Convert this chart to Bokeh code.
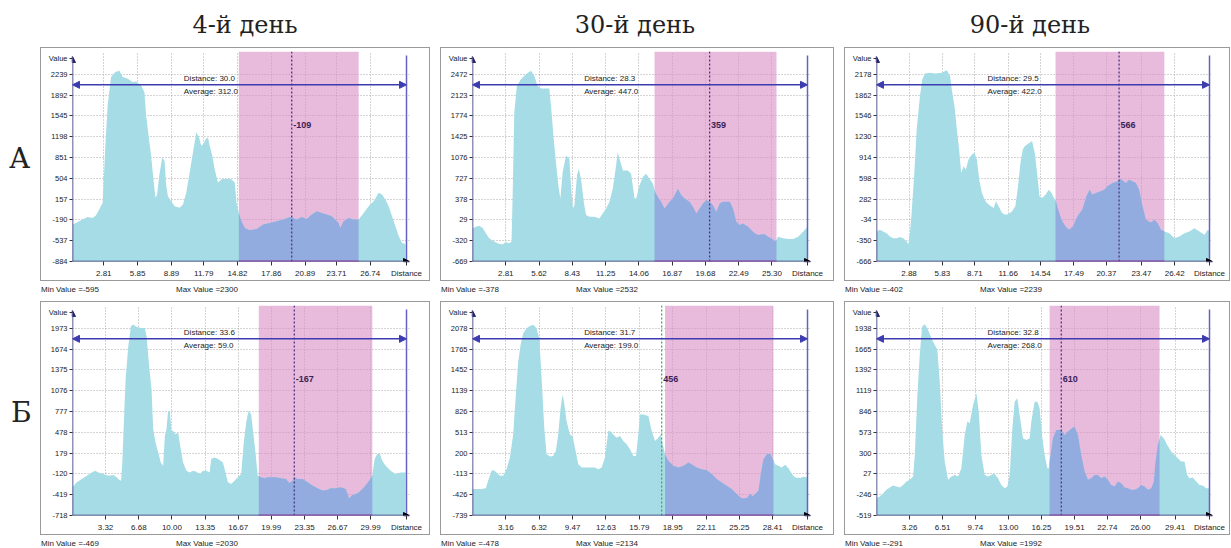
import numpy as np
from bokeh.plotting import figure
from bokeh.models import Range1d, FixedTicker, Label, Arrow, NormalHead, Span, Div, Spacer
from bokeh.layouts import row, column
from bokeh.embed import file_html
from bokeh.resources import INLINE

# ---------------- data ----------------
HEADERS = ["4-й день", "30-й день", "90-й день"]
ROW_LABELS = ["А", "Б"]

# Panel A1 (4-й день, row А)
A1_x = [0.00,0.30,0.90,1.35,1.80,2.10,2.40,2.71,2.95,3.16,3.46,3.85,4.21,4.51,4.96,5.41,5.71,6.16,6.46,6.61,
        6.91,7.06,7.27,7.45,7.60,7.81,8.06,8.27,8.42,8.57,8.87,9.17,9.62,9.92,10.22,10.52,10.82,11.12,11.36,11.57,
        11.78,11.96,12.17,12.32,12.56,12.77,13.07,13.38,13.83,14.28,14.58,14.73,14.94,15.18,15.48,15.93,16.53,17.13,17.73,18.33,
        18.94,19.54,19.84,20.14,20.59,21.04,21.49,21.94,22.39,22.84,23.29,23.59,23.90,24.05,24.35,24.80,25.25,25.70,26.15,26.60,
        27.05,27.50,27.80,28.10,28.40,28.70,29.00,29.31,29.61,29.91]
A1_y = [-268,-240,-184,-140,-157,-117,-17,95,1047,1718,2194,2278,2300,2194,2166,2110,2121,2054,1942,1551,
        1103,879,487,179,235,571,851,795,375,207,123,39,11,67,263,599,935,1271,1187,1047,
        1075,1159,1187,1047,879,655,431,487,498,487,431,95,-73,-212,-324,-364,-341,-268,-240,-212,
        -184,-140,-157,-184,-140,-173,-101,-45,-73,-101,-129,-184,-240,-324,-212,-157,-184,-184,-73,39,
        123,263,235,151,39,-129,-296,-464,-576,-595]
A1_yticks = [-884,-537,-190,157,504,851,1198,1545,1892,2239]
A1_xlabels = ["2.81","5.85","8.89","11.79","14.82","17.86","20.89","23.71","26.74"]
A1_distance, A1_average = 30.0, 312.0
A1_region = (14.94, 25.70)
A1_marker, A1_marker_value = 19.69, -109
A1_min, A1_max = -595, 2300

# Panel A2 (30-й день, row А)
A2_x = [0.00,0.28,0.56,0.85,1.13,1.41,1.83,2.26,2.54,2.82,3.10,3.30,3.39,3.53,3.75,4.09,4.51,4.94,5.22,5.50,
        5.78,6.49,6.63,6.86,7.05,7.25,7.42,7.62,7.90,8.18,8.32,8.47,8.61,8.83,8.97,9.17,9.40,9.59,9.88,10.30,
        10.72,11.00,11.29,11.57,11.85,12.13,12.27,12.42,12.70,13.12,13.40,13.69,13.83,14.11,14.39,14.67,14.95,15.24,15.43,15.66,
        15.94,16.22,16.65,16.93,17.21,17.35,17.64,17.92,18.34,18.62,18.91,19.19,19.47,19.75,20.03,20.32,20.60,20.88,21.16,21.44,
        21.73,22.01,22.29,22.57,22.86,23.28,23.56,23.84,24.13,24.41,24.69,24.97,25.25,25.59,25.82,26.24,26.66,27.09,27.51,27.93,
        28.30]
A2_y = [-113,-85,-68,-102,-196,-280,-335,-374,-378,-346,-363,-335,443,1833,2277,2389,2472,2532,2444,2277,
        2233,2233,1944,1388,999,610,387,832,1110,1054,610,221,276,777,888,721,332,110,82,82,
        54,137,221,332,554,943,1166,1054,860,860,804,387,387,610,749,804,721,638,499,415,
        332,221,332,387,499,554,443,387,332,248,137,221,304,360,332,276,165,304,332,332,
        332,221,-2,-57,-30,-85,-141,-196,-224,-213,-213,-252,-280,-335,-252,-280,-291,-291,-252,-169,
        -85]
A2_yticks = [-669,-320,29,378,727,1076,1425,1774,2123,2472]
A2_xlabels = ["2.81","5.62","8.43","11.25","14.06","16.87","19.68","22.49","25.30"]
A2_distance, A2_average = 28.3, 447.0
A2_region = (15.38, 25.68)
A2_marker, A2_marker_value = 20.03, 359
A2_min, A2_max = -378, 2532

# Panel A3 (90-й день, row А)
A3_x = [0.00,0.30,0.59,0.89,1.19,1.48,1.78,2.08,2.37,2.67,2.82,2.96,3.11,3.35,3.56,3.85,4.06,4.30,4.74,5.19,
        5.78,6.23,6.52,6.67,6.91,7.12,7.32,7.50,7.71,7.92,8.15,8.45,8.69,8.89,9.10,9.34,9.58,9.78,10.08,10.38,
        10.58,10.82,11.12,11.41,11.71,12.01,12.30,12.54,12.75,12.96,13.13,13.34,13.55,13.79,14.02,14.23,14.44,14.68,14.97,15.27,
        15.51,15.71,15.86,16.10,16.39,16.75,17.05,17.40,17.79,18.00,18.23,18.59,18.89,19.12,19.42,19.86,20.16,20.46,20.90,21.35,
        21.64,22.09,22.38,22.68,22.98,23.27,23.57,23.87,24.31,24.61,24.90,25.20,25.50,25.94,26.39,26.83,27.28,27.72,28.16,28.61,
        29.05,29.35,29.50]
A3_y = [-209,-184,-209,-235,-285,-311,-311,-295,-311,-362,-402,-235,70,680,1340,1848,2102,2193,2203,2193,
        2203,2239,2153,1949,1695,1340,1035,680,782,731,883,959,984,883,578,375,273,223,182,146,
        248,172,70,45,55,96,172,477,832,1035,1086,1112,1137,1162,984,680,324,299,349,426,
        375,299,273,121,-31,-133,-184,-133,19,70,121,324,426,349,375,400,426,477,527,553,
        588,527,578,553,527,426,172,-31,-72,-31,-82,-184,-209,-235,-311,-285,-235,-209,-159,-209,
        -260,-184,-209]
A3_yticks = [-666,-350,-34,282,598,914,1230,1546,1862,2178]
A3_xlabels = ["2.88","5.83","8.71","11.66","14.54","17.49","20.37","23.47","26.42"]
A3_distance, A3_average = 29.5, 422.0
A3_region = (15.86, 25.50)
A3_marker, A3_marker_value = 21.49, 566
A3_min, A3_max = -402, 2239

# Panel B1 (4-й день, row Б)
B1_x = [0.00,0.43,0.94,1.44,1.94,2.27,2.61,3.11,3.61,4.11,4.44,4.68,4.88,5.01,5.14,5.34,5.61,5.88,6.11,6.45,
        6.95,7.28,7.45,7.68,7.95,8.12,8.35,8.62,8.88,9.12,9.29,9.45,9.62,9.79,9.95,10.12,10.35,10.62,10.89,11.12,
        11.46,11.79,12.12,12.46,12.79,13.13,13.46,13.79,13.96,14.23,14.56,14.90,15.13,15.30,15.63,15.97,16.30,16.63,16.97,17.23,
        17.47,17.70,17.97,18.14,18.37,18.64,18.97,19.31,19.64,19.97,20.47,20.98,21.48,21.81,22.14,22.31,22.65,23.15,23.65,24.15,
        24.65,25.15,25.65,25.99,26.49,26.99,27.49,27.82,28.16,28.49,28.82,29.33,29.73,30.16,30.39,30.66,30.93,31.16,31.50,32.00,
        32.50,33.00,33.50]
B1_y = [-312,-241,-193,-145,-98,-74,-98,-122,-145,-136,-169,-203,-217,45,523,1238,1715,2002,2030,1992,
        1978,1978,1858,1477,1095,523,332,189,45,-3,427,523,785,785,499,499,451,475,236,45,
        -74,-98,-74,-88,-122,-74,-74,-98,93,117,103,69,45,-50,-241,-265,-217,-169,-122,332,
        618,785,737,523,236,-145,-169,-183,-169,-169,-169,-183,-193,-250,-217,-169,-193,-193,-241,-288,
        -327,-360,-346,-327,-327,-312,-336,-469,-422,-408,-384,-312,-241,-145,93,165,165,69,-3,-74,
        -122,-98,-98]
B1_yticks = [-718,-419,-120,179,478,777,1076,1375,1674,1973]
B1_xlabels = ["3.32","6.68","10.00","13.35","16.67","19.99","23.35","26.67","29.99"]
B1_distance, B1_average = 33.6, 59.0
B1_region = (18.74, 30.16)
B1_marker, B1_marker_value = 22.31, -167
B1_min, B1_max = -469, 2030

# Panel B2 (30-й день, row Б)
B2_x = [0.00,0.38,0.85,1.26,1.48,1.80,2.02,2.27,2.59,2.90,3.22,3.54,3.85,4.10,4.33,4.55,4.80,5.12,5.43,5.75,
        6.06,6.32,6.54,6.79,7.01,7.33,7.64,7.89,8.11,8.34,8.53,8.65,8.90,9.22,9.47,9.69,10.01,10.33,10.64,11.11,
        11.59,11.90,12.22,12.54,12.85,13.01,13.32,13.64,13.96,14.27,14.59,14.90,15.22,15.47,15.69,15.85,16.17,16.64,16.96,17.27,
        17.59,17.81,18.00,18.22,18.53,19.01,19.48,19.96,20.43,20.75,21.22,21.69,22.17,22.64,23.11,23.59,24.06,24.53,24.85,25.17,
        25.48,25.96,26.27,26.52,26.74,27.06,27.28,27.53,27.85,28.17,28.42,28.64,28.95,29.27,29.59,29.90,30.22,30.53,31.01,31.32,
        31.70]
B2_y = [-340,-340,-340,-330,-216,-66,-56,-91,-141,-141,-41,134,482,1081,1579,1829,2003,2078,2113,2134,
        2078,1928,1330,582,183,148,158,233,482,881,1081,981,682,482,458,283,34,-16,-16,-16,
        -16,-41,-16,134,532,532,482,433,458,383,333,258,158,158,482,782,782,757,532,383,
        433,482,333,183,84,9,-16,9,59,34,-16,-41,-56,-116,-191,-241,-291,-340,-390,-440,
        -478,-475,-415,-450,-415,-365,-116,109,183,193,109,34,9,-16,24,-26,-116,-166,-176,-156,
        -166]
B2_yticks = [-739,-426,-113,200,513,826,1139,1452,1765,2078]
B2_xlabels = ["3.16","6.32","9.47","12.63","15.79","18.95","22.11","25.25","28.41"]
B2_distance, B2_average = 31.7, 199.0
B2_region = (18.22, 28.48)
B2_marker, B2_marker_value = 17.90, 456
B2_min, B2_max = -478, 2134

# Panel B3 (90-й день, row Б)
B3_x = [0.00,0.33,0.66,0.98,1.31,1.64,1.97,2.30,2.62,2.95,3.28,3.61,3.77,4.03,4.26,4.49,4.76,5.08,5.41,5.74,
        6.00,6.23,6.46,6.72,7.05,7.38,7.71,8.04,8.36,8.69,8.95,9.18,9.51,9.84,10.07,10.33,10.66,10.99,11.32,11.58,
        11.97,12.30,12.63,12.89,13.12,13.38,13.61,13.87,14.10,14.43,14.76,15.09,15.25,15.58,15.84,16.07,16.30,16.56,16.83,16.96,
        17.15,17.38,17.71,18.20,18.53,18.86,19.25,19.51,19.84,20.17,20.50,20.83,21.15,21.48,21.81,22.14,22.47,22.79,23.12,23.45,
        23.78,24.11,24.43,24.76,25.09,25.42,25.75,26.07,26.40,26.73,27.06,27.32,27.45,27.71,27.98,28.30,28.63,29.03,29.35,29.68,
        30.01,30.34,30.60,30.83,31.16,31.49,31.81,32.14,32.47,32.80]
B3_y = [-291,-270,-226,-182,-152,-126,-139,-152,-117,-73,-51,-8,277,1064,1588,1960,1992,1916,1807,1719,
        1654,1238,626,189,-51,-8,14,-8,102,539,714,692,932,1085,845,277,14,-8,14,36,
        -30,-117,-161,-139,14,626,976,1020,801,495,473,495,714,976,976,889,539,277,102,102,
        277,495,605,605,539,583,626,648,539,277,58,-51,-30,14,14,-30,-8,-51,-117,-139,
        -73,-95,-152,-161,-182,-182,-161,-117,-139,-182,-161,-73,145,408,539,495,408,320,277,233,
        189,189,14,-30,-21,-73,-117,-126,-161,-161]
B3_yticks = [-519,-246,27,300,573,846,1119,1392,1665,1938]
B3_xlabels = ["3.26","6.51","9.74","13.00","16.25","19.51","22.74","26.00","29.41"]
B3_distance, B3_average = 32.8, 268.0
B3_region = (17.05, 27.88)
B3_marker, B3_marker_value = 18.20, 610
B3_min, B3_max = -291, 1992

# ---------------- style / layout ----------------
CYAN = "#a6dce5"
BLUE = "#93acdf"
PINK = "#d98cc5"
NAVY = "#25256e"
ARROW_BLUE = "#3c3cb0"
RIGHT_LINE = "#6464c8"
MARKER_PURPLE = "#4a3585"
MARKER_GREEN = "#3fae49"
REGION_LINE = "#9a55a8"
VALUE_PURPLE = "#3a1f55"
SMALL_FONT = "Liberation Sans"

BOX_H = 232
FRAME_TOP = 3
FRAME_H = 211
BORDER_L = 31
BOX_W = [388, 392, 384]
FRAME_W = [337, 338, 336]
NOMARGIN = (0, 0, 0, 0)


def make_panel(xs, ys, yticks, xlabels, dist, avg, region, mk, mk_val, mk_color, box_w, frame_w):
    xs = np.asarray(xs, dtype=float)
    ys = np.asarray(ys, dtype=float)
    xt = [float(s) for s in xlabels]
    step = yticks[1] - yticks[0]
    ymin = yticks[0]
    ytop = yticks[-1] + 1.1 * step
    uy = (ytop - ymin) / FRAME_H
    ux = dist / (frame_w - 3)
    xend = dist + 3 * ux
    r0, r1 = region
    y_value = ytop - 6.7 * uy

    p = figure(width=box_w, height=BOX_H, x_range=Range1d(0, xend), y_range=Range1d(ymin, ytop),
               output_backend="svg", toolbar_location=None,
               min_border_left=BORDER_L, min_border_right=box_w - BORDER_L - frame_w,
               min_border_top=FRAME_TOP, min_border_bottom=BOX_H - FRAME_TOP - FRAME_H,
               background_fill_color="white", border_fill_color="white",
               outline_line_color=None, margin=NOMARGIN,
               styles={"outline": "1px solid #9a9a9a"})

    # axis ticks: tick values + the axis names ("Distance", "Value") at the arrow ends
    p.xaxis.ticker = FixedTicker(ticks=xt + [dist])
    ov = {t: s for t, s in zip(xt, xlabels)}
    ov[dist] = "Distance"
    p.xaxis.major_label_overrides = ov
    p.yaxis.ticker = FixedTicker(ticks=list(yticks) + [y_value])
    ovy = {t: str(t) for t in yticks}
    ovy[y_value] = "Value"
    p.yaxis.major_label_overrides = ovy
    for ax in (p.xaxis, p.yaxis):
        ax.axis_line_color = None
        ax.major_tick_line_color = "#333333"
        ax.major_tick_in = 0
        ax.minor_tick_line_color = None
        ax.major_label_text_font = SMALL_FONT
        ax.major_label_text_color = "#222222"
    p.xaxis.major_label_text_font_size = "8px"
    p.yaxis.major_label_text_font_size = "7.5px"
    p.xaxis.major_tick_out = 4
    p.xaxis.major_label_standoff = 3
    p.yaxis.major_tick_out = 3
    p.yaxis.major_label_standoff = 2

    p.xgrid.ticker = FixedTicker(ticks=xt)
    p.ygrid.ticker = FixedTicker(ticks=yticks)
    p.grid.grid_line_color = "#a8a8a8"
    p.grid.grid_line_dash = "1 2"

    # highlighted region
    p.quad(left=[r0], right=[r1], bottom=[ymin], top=[ytop], fill_color=PINK, fill_alpha=0.6, line_color=None)
    # profile
    p.varea(x=xs, y1=np.full_like(xs, ymin), y2=ys, fill_color=CYAN)
    sel = (xs > r0) & (xs < r1)
    xr = np.concatenate([[r0], xs[sel], [r1]])
    yr = np.interp(xr, xs, ys)
    p.varea(x=xr, y1=np.full_like(xr, ymin), y2=yr, fill_color=BLUE)

    # marker line
    p.add_layout(Span(location=mk, dimension="height", line_color=mk_color, line_dash="2 2", line_width=1.3))
    # right boundary line
    p.segment(x0=[dist], y0=[ymin], x1=[dist], y1=[ytop - 4 * uy], line_color=RIGHT_LINE, line_width=1.5)

    # axes with arrows
    p.add_layout(Arrow(x_start=0, y_start=ymin, x_end=0, y_end=ytop - 5 * uy,
                       end=NormalHead(size=6, fill_color=NAVY, line_color=NAVY),
                       line_color=NAVY, line_width=1.5))
    p.add_layout(Arrow(x_start=0, y_start=ymin, x_end=xend, y_end=ymin,
                       end=NormalHead(size=6, fill_color="black", line_color="black"),
                       line_color=NAVY, line_width=1.5))
    p.add_layout(Arrow(x_start=r0, y_start=ymin, x_end=r1, y_end=ymin, end=None,
                       line_color=REGION_LINE, line_width=2))

    # distance double arrow
    ya = ytop - 33.5 * uy
    p.add_layout(Arrow(x_start=0, y_start=ya, x_end=dist, y_end=ya,
                       start=NormalHead(size=7, fill_color=ARROW_BLUE, line_color=ARROW_BLUE),
                       end=NormalHead(size=7, fill_color=ARROW_BLUE, line_color=ARROW_BLUE),
                       line_color=ARROW_BLUE, line_width=1.5))

    def lab(x, y, text, align):
        p.add_layout(Label(x=x, y=y, text=text, text_font=SMALL_FONT, text_font_size="8px",
                           text_color="#222222", text_align=align, text_baseline="middle"))

    lab(dist / 3, ya + 6 * uy, f"Distance: {dist:.1f}", "left")
    lab(dist / 3, ya - 7 * uy, f"Average: {avg:.1f}", "left")
    p.add_layout(Label(x=mk + 1.5 * ux, y=ytop - 74 * uy, text=str(mk_val), text_font=SMALL_FONT,
                       text_font_size="9px", text_font_style="bold", text_color=VALUE_PURPLE,
                       text_align="left", text_baseline="middle"))
    return p


def minmax_div(vmin, vmax, w, h, pad):
    html = ('<div style="display:flex;font-family:\'Liberation Sans\';font-size:8px;line-height:11px;'
            f'color:#222;white-space:nowrap;margin:0;padding:{pad}px 0 0 0">'
            '<span style="width:135px;flex:none">Min Value =' + str(vmin) + '</span>'
            '<span>Max Value =' + str(vmax) + '</span></div>')
    return Div(text=html, width=w, height=h, margin=NOMARGIN)


def panel_block(args, col, vmin, vmax, mm_h, mm_pad):
    p = make_panel(*args, BOX_W[col], FRAME_W[col])
    return column(p, minmax_div(vmin, vmax, BOX_W[col], mm_h, mm_pad), spacing=0, margin=NOMARGIN)


MM_A_H, MM_A_PAD = 16, 4
MM_B_H, MM_B_PAD = 13, 3
HEADER_H = 48
ROW_GAP = 6
LABEL_W = 41
COL_GAP = 12

rowA_panels = [
    panel_block((A1_x, A1_y, A1_yticks, A1_xlabels, A1_distance, A1_average, A1_region, A1_marker, A1_marker_value, MARKER_PURPLE), 0, A1_min, A1_max, MM_A_H, MM_A_PAD),
    panel_block((A2_x, A2_y, A2_yticks, A2_xlabels, A2_distance, A2_average, A2_region, A2_marker, A2_marker_value, MARKER_PURPLE), 1, A2_min, A2_max, MM_A_H, MM_A_PAD),
    panel_block((A3_x, A3_y, A3_yticks, A3_xlabels, A3_distance, A3_average, A3_region, A3_marker, A3_marker_value, MARKER_PURPLE), 2, A3_min, A3_max, MM_A_H, MM_A_PAD),
]
rowB_panels = [
    panel_block((B1_x, B1_y, B1_yticks, B1_xlabels, B1_distance, B1_average, B1_region, B1_marker, B1_marker_value, MARKER_PURPLE), 0, B1_min, B1_max, MM_B_H, MM_B_PAD),
    panel_block((B2_x, B2_y, B2_yticks, B2_xlabels, B2_distance, B2_average, B2_region, B2_marker, B2_marker_value, MARKER_GREEN), 1, B2_min, B2_max, MM_B_H, MM_B_PAD),
    panel_block((B3_x, B3_y, B3_yticks, B3_xlabels, B3_distance, B3_average, B3_region, B3_marker, B3_marker_value, MARKER_PURPLE), 2, B3_min, B3_max, MM_B_H, MM_B_PAD),
]

TOTAL_W = LABEL_W + sum(BOX_W) + 2 * COL_GAP

hdr_html = ('<div style="display:flex;font-family:\'DejaVu Serif\';font-size:24px;line-height:24px;'
            'color:#222;padding-top:13px;white-space:nowrap;margin:0">'
            '<div style="width:145px;flex:none"></div>'
            f'<div style="width:200px;flex:none;text-align:center">{HEADERS[0]}</div>'
            '<div style="width:190px;flex:none"></div>'
            f'<div style="width:200px;flex:none;text-align:center">{HEADERS[1]}</div>'
            '<div style="width:195px;flex:none"></div>'
            f'<div style="width:200px;flex:none;text-align:center">{HEADERS[2]}</div>'
            '</div>')
header = Div(text=hdr_html, width=TOTAL_W, height=HEADER_H, margin=NOMARGIN)


def row_label(text, h, pad_top, pad_left):
    html = (f'<div style="font-family:\'DejaVu Serif\';font-size:28px;line-height:28px;margin:0;'
            f'padding-top:{pad_top}px;padding-left:{pad_left}px;color:#222">{text}</div>')
    return Div(text=html, width=LABEL_W, height=h, margin=NOMARGIN)


def gap(w, h):
    return Spacer(width=w, height=h, margin=NOMARGIN)


hA = BOX_H + MM_A_H
hB = BOX_H + MM_B_H
rowA = row(row_label(ROW_LABELS[0], hA, 97, 9), rowA_panels[0], gap(COL_GAP, hA),
           rowA_panels[1], gap(COL_GAP, hA), rowA_panels[2], spacing=0, margin=NOMARGIN)
rowB = row(row_label(ROW_LABELS[1], hB, 97, 11), rowB_panels[0], gap(COL_GAP, hB),
           rowB_panels[1], gap(COL_GAP, hB), rowB_panels[2], spacing=0, margin=NOMARGIN)

layout = column(header, rowA, gap(TOTAL_W, ROW_GAP), rowB, spacing=0, margin=NOMARGIN)

open("out.html", "w").write(file_html(layout, INLINE))
